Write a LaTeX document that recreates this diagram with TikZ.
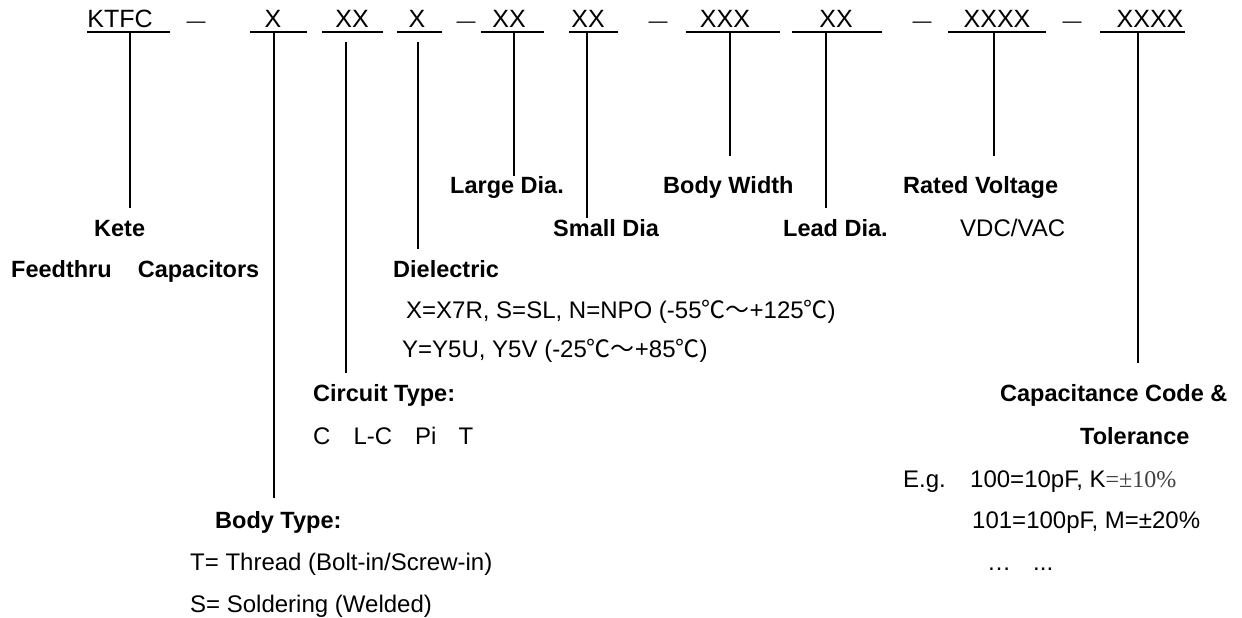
\documentclass[tikz,border=0pt]{standalone}
\usepackage{fontspec}
\setmainfont{Liberation Sans}
\newfontfamily\cjkfont{Noto Sans CJK SC}
\newfontfamily\serffont{Liberation Serif}
\newcommand{\degC}{{\cjkfont ℃}}
\newcommand{\tildeW}{{\cjkfont ～}}

\tikzstyle{cS}=[inner sep=0pt, anchor=base, font=\fontsize{25}{28}\selectfont]
\tikzstyle{dS}=[inner sep=0pt, anchor=base, font=\fontsize{19}{28}\selectfont]
\tikzstyle{lS}=[inner sep=0pt, anchor=base west, font=\fontsize{23.5}{27}\selectfont\bfseries]
\tikzstyle{tS}=[inner sep=0pt, anchor=base west, font=\fontsize{24}{27}\selectfont]
\tikzstyle{uS}=[line width=1.5pt]
\tikzstyle{vS}=[line width=1.3pt]

\begin{document}
\begin{tikzpicture}[x=1pt,y=-1pt]
    \useasboundingbox (0,0) rectangle (1242,618);
    % code line
    \draw (120,28) node[cS] (kt) {KTFC};
    \draw (196,28) node[dS] (d1) {—};
    \draw (273,28) node[cS] (x1) {X};
    \draw (352,28) node[cS] (x2) {XX};
    \draw (417,28) node[cS] (x3) {X};
    \draw (466,28) node[dS] (d2) {—};
    \draw (509,28) node[cS] (x4) {XX};
    \draw (588,28) node[cS] (x5) {XX};
    \draw (658,28) node[dS] (d3) {—};
    \draw (725,28) node[cS] (x6) {XXX};
    \draw (836,28) node[cS] (x7) {XX};
    \draw (922,28) node[dS] (d4) {—};
    \draw (997,28) node[cS] (x8) {XXXX};
    \draw (1072,28) node[dS] (d5) {—};
    \draw (1150,28) node[cS] (x9) {XXXX};
    \foreach \n/\a/\b in {kt/87/170, x1/250/307, x2/322/383, x3/397/442, x4/481/544,
        x5/569/618, x6/686/780, x7/792/882, x8/948/1046, x9/1100/1185}
        {\coordinate (\n L) at (\a,32); \coordinate (\n R) at (\b,32);
         \draw[uS] (\n L) -- (\n R);}
    % labels
    \draw (94,236) node[lS] (kete) {Kete};
    \draw (11,277) node[lS] (feed) {Feedthru~~~~Capacitors};
    \draw (450,193) node[lS] (large) {Large Dia.};
    \draw (663,193) node[lS] (width) {Body Width};
    \draw (903,193) node[lS] (volt) {Rated Voltage};
    \draw (553,236) node[lS] (small) {Small Dia};
    \draw (783,236) node[lS] (lead) {Lead Dia.};
    \draw (960,236) node[tS] (vdc) {VDC/VAC};
    \draw (393,277) node[lS] (diel) {Dielectric};
    \draw (406,318) node[tS] (diel1) {X=X7R, S=SL, N=NPO (-55\degC\tildeW+125\degC)};
    \draw (402,357) node[tS] (diel2) {Y=Y5U, Y5V (-25\degC\tildeW+85\degC)};
    \draw (313,401) node[lS] (circ) {Circuit Type:};
    \draw (313,444) node[tS] (circ1) {C\hspace{23pt}L-C\hspace{23pt}Pi\hspace{22pt}T};
    \draw (1000,401) node[lS] (cap) {Capacitance Code \&};
    \draw (1080,444) node[lS] (tol) {Tolerance};
    \draw (903,487) node[tS] (eg) {E.g.};
    \draw (970,487) node[tS] (cap1) {100=10pF, K{\serffont\color{black!75}=±10\%}};
    \draw (972,528) node[tS] (cap2) {101=100pF, M=±20\%};
    \draw (987,570) node[tS] (cap3) {…\hspace{22pt}...};
    \draw (215,528) node[lS] (body) {Body Type:};
    \draw (190,570) node[tS] (body1) {T= Thread (Bolt-in/Screw-in)};
    \draw (190,612) node[tS] (body2) {S= Soldering (Welded)};
    % leaders
    \foreach \n/\x/\t/\e in {kt/130/32/208, x1/274/32/498, x2/346/42/373, x3/418/42/249,
        x4/514/32/176, x5/587/32/218, x6/730/32/156, x7/826/32/208, x8/994/32/156, x9/1138/32/363}
        {\coordinate (\n T) at (\x,\t); \coordinate (\n B) at (\x,\e);
         \path (\n T) edge[vS] (\n B);}
\end{tikzpicture}
\end{document}
